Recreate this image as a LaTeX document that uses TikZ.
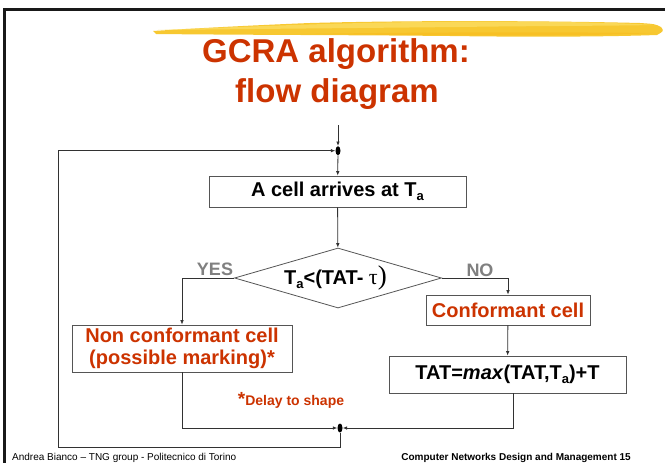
\documentclass[tikz,border=0pt]{standalone}
\usepackage{fontspec}
\setmainfont{Liberation Sans}
\newfontfamily\serifg{Liberation Serif}
\usetikzlibrary{arrows.meta,shapes.geometric,calc}
\definecolor{ttlred}{RGB}{204,51,0}
\definecolor{ygray}{RGB}{128,128,128}
\definecolor{boxgray}{RGB}{85,85,85}
\definecolor{linegray}{RGB}{50,50,50}
\definecolor{hiy}{RGB}{247,196,32}
\definecolor{hiylight}{RGB}{252,222,100}
\newcommand{\sbA}{\raisebox{-4pt}{\fontsize{13}{13}\selectfont a}}
\tikzset{
  conn/.style={draw=linegray, line width=0.8pt, -{Latex[length=4.5pt,width=3.6pt]}},
  fbox/.style={draw=boxgray, line width=0.8pt, inner sep=0pt, font=\fontsize{20}{22}\selectfont\bfseries},
  junc/.style={ellipse, fill=black, minimum width=5pt, minimum height=9pt, inner sep=0pt},
  lbl/.style={text=ygray, font=\fontsize{18}{18}\selectfont\bfseries, inner sep=0pt}
}
\begin{document}
\begin{tikzpicture}[x=1pt,y=-1pt]
\useasboundingbox (0,0) rectangle (665,463);
\fill[white] (0,0) rectangle (665,463);
% frame
\draw[line width=3pt, draw={rgb,255:red,25;green,25;blue,25}] (4.5,463) -- (4.5,9.5) -- (665,9.5);
% yellow highlighter stroke
\fill[hiy, opacity=0.92] (153,31) .. controls (200,28) and (260,25) .. (310,23)
   .. controls (420,20) and (560,21) .. (640,23) .. controls (655,24) .. (661,27)
   .. controls (664,31) .. (657,35)
   .. controls (600,37) and (520,37) .. (450,36) .. controls (350,35) and (250,35) .. (156,34) -- cycle;
\fill[hiylight, opacity=0.75] (158,30) .. controls (240,27) and (330,23) .. (420,22)
   .. controls (520,21) and (610,22) .. (655,25) .. controls (600,26) and (520,26) .. (460,27)
   .. controls (360,28) and (250,29) .. (158,30) -- cycle;
\fill[hiy!85!orange, opacity=0.5] (300,34) .. controls (420,32) and (560,32) .. (656,33)
   .. controls (600,36) and (480,36) .. (300,34) -- cycle;
% title
\node[anchor=base, text=ttlred, font=\fontsize{33}{33}\selectfont\bfseries, inner sep=0pt] (t1) at (336,63) {GCRA algorithm:};
\node[anchor=base, text=ttlred, font=\fontsize{33}{33}\selectfont\bfseries, inner sep=0pt] (t2) at (337,102) {flow diagram};
% nodes
\coordinate (in) at (338,125);
\node[junc] (j1) at (338,150.7) {};
\node[fbox, minimum width=257pt, minimum height=31pt] (cell) at (337.5,191.5) {A cell arrives at T\sbA};
\node[diamond, draw=boxgray, line width=0.8pt, aspect=3.45, minimum width=207pt, minimum height=60pt, inner sep=0pt,
      font=\fontsize{20}{22}\selectfont\bfseries] (dia) at (338,278)
      {\hspace*{-5pt}T\sbA<(TAT- {\serifg\mdseries\fontsize{22}{22}\selectfont τ}{\serifg\mdseries\fontsize{27}{27}\selectfont)}};
\node[lbl] (yes) at (215,269) {YES};
\node[lbl] (no) at (480,270) {NO};
\node[fbox, text=ttlred, align=center, minimum width=220pt, minimum height=47pt] (nc) at (182,348.5)
      {Non conformant cell\\(possible marking)*};
\node[fbox, text=ttlred, minimum width=164pt, minimum height=30pt] (cf) at (508,310) {Conformant cell};
\node[fbox, minimum width=237pt, minimum height=37pt] (tat) at (507.5,374.5) {TAT=\textit{max}(TAT,T\sbA)+T};
\node[text=ttlred, font=\fontsize{14}{14}\selectfont\bfseries, inner sep=0pt, anchor=base] (dl) at (291,405)
      {{\fontsize{19}{19}\selectfont *}Delay to shape};
\node[junc] (j2) at (340,428) {};
\coordinate (lb) at (58,447);
% footer
\node[anchor=base west, font=\fontsize{10}{10}\selectfont, inner sep=0pt] (fl) at (12,460) {Andrea Bianco – TNG group - Politecnico di Torino};
\node[anchor=base east, font=\fontsize{10}{10}\selectfont\bfseries, inner sep=0pt] (fr) at (631,460) {Computer Networks Design and Management 15};
% connectors
\draw[conn] (in) -- (j1);
\draw[conn] (j1) -- (cell);
\draw[conn] (cell) -- (dia);
\draw[conn] (dia.west) -| (nc.north);
\draw[conn] (dia.east) -| (cf.north);
\draw[conn] (cf) -- (tat);
\draw[conn] (nc.south) |- (j2);
\draw[conn] ([xshift=5.5pt]tat.south) |- (j2);
\draw[conn] (j2) |- (lb) |- (j1);
\end{tikzpicture}
\end{document}
